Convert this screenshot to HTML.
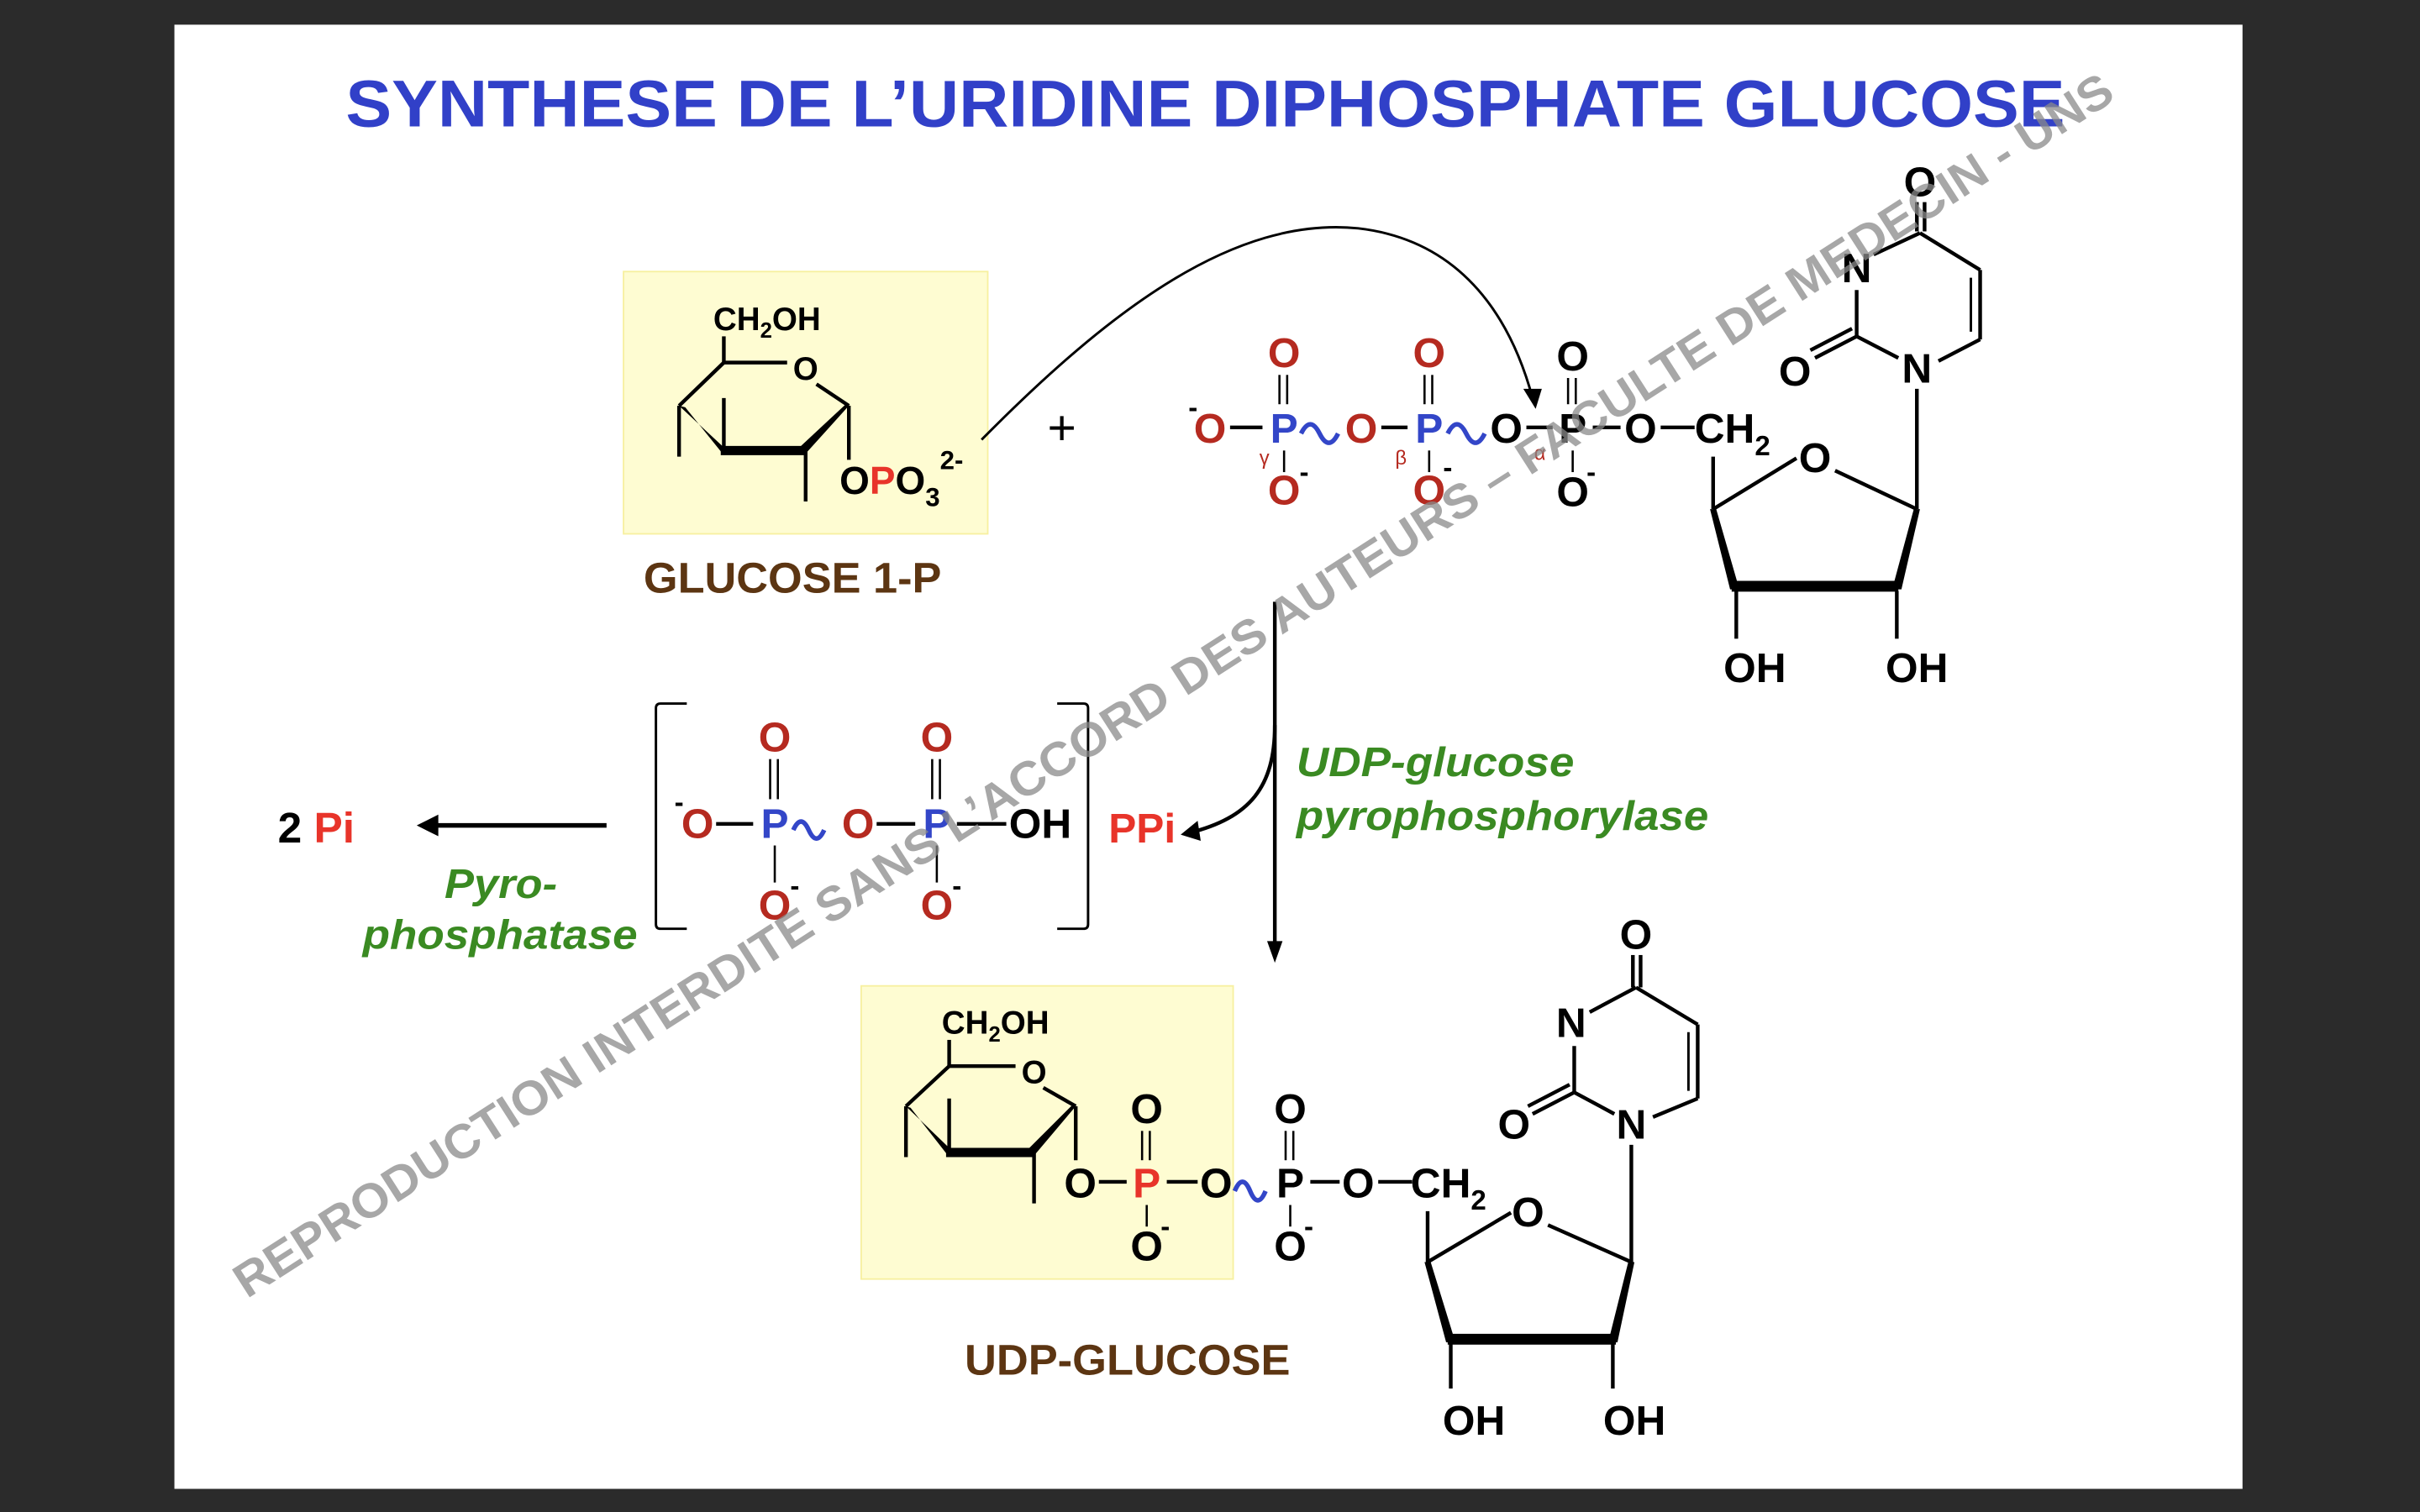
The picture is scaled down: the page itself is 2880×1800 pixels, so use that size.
<!DOCTYPE html>
<html><head><meta charset="utf-8"><style>
html,body{margin:0;padding:0;background:#2b2b2b;}
svg{display:block;}
text{font-family:"Liberation Sans",Arial,sans-serif;font-weight:bold;}
.a{font-size:27px;text-anchor:middle;}
.r{fill:#b52a20}.b{fill:#3346c8}.rp{fill:#e8342a}
.g{fill:#3a8a22;font-style:italic;font-size:27px;}
.br{fill:#5c3512;font-size:28px;}
line,path,polyline{stroke:#000;stroke-width:2.4;fill:none;}
</style></head><body>
<svg width="2880" height="1800" viewBox="0 0 1568 980" xmlns="http://www.w3.org/2000/svg">
<rect x="0" y="0" width="1568" height="980" fill="#2b2b2b"/>
<rect x="113" y="16" width="1340" height="949" fill="#fff"/>
<text x="224" y="82" textLength="1114" lengthAdjust="spacingAndGlyphs" style="font-size:43px;fill:#3140c8">SYNTHESE DE L’URIDINE DIPHOSPHATE GLUCOSE</text>

<!-- glucose 1-P box -->
<rect x="404" y="176" width="236" height="170" fill="#fefcd2" stroke="#f7f0a0" stroke-width="1"/>
<text x="497" y="214" style="font-size:21px;text-anchor:middle">CH<tspan font-size="14" dy="5">2</tspan><tspan dy="-5">OH</tspan></text>
<line x1="469" y1="218" x2="469" y2="235"/>
<line x1="469" y1="235" x2="510" y2="235"/>
<text x="522" y="246" class="a" style="font-size:21px">O</text>
<line x1="529" y1="249" x2="550" y2="263"/>
<line x1="469" y1="235" x2="440" y2="263"/>
<polygon points="440,263 469,290 469,295 444,264" fill="#000"/>
<line x1="467" y1="292" x2="522" y2="292" style="stroke-width:6"/>
<polygon points="522,294 550,263 548,262 519,289" fill="#000"/>
<line x1="440" y1="263" x2="440" y2="296"/>
<line x1="469" y1="258" x2="469" y2="292"/>
<line x1="522" y1="292" x2="522" y2="325"/>
<line x1="550" y1="263" x2="550" y2="298"/>
<text x="544" y="320" style="font-size:25px">O<tspan class="rp">P</tspan>O<tspan font-size="17" dy="8">3</tspan><tspan font-size="17" dy="-24">2-</tspan></text>
<text x="417" y="384" class="br" textLength="193" lengthAdjust="spacingAndGlyphs">GLUCOSE 1-P</text>
<text x="688" y="288" style="font-size:32px;font-weight:normal;text-anchor:middle">+</text>

<!-- curved arrow -->
<path d="M636,285 C720,200 800,140 880,148 C950,156 980,210 993,258" style="stroke-width:1.6"/>
<polygon points="987,252 999,252 995,265" fill="#000"/>

<!-- UTP phosphate chain -->
<text x="784" y="287" class="a r">O</text><text x="770" y="270" style="font-size:18px">-</text>
<line x1="797" y1="277" x2="818" y2="277"/>
<text x="832" y="287" class="a b">P</text>
<text x="832" y="238" class="a r">O</text>
<line x1="829" y1="243" x2="829" y2="262" style="stroke-width:1.4"/><line x1="834" y1="243" x2="834" y2="262" style="stroke-width:1.4"/>
<line x1="832" y1="292" x2="832" y2="306" style="stroke-width:1.4"/>
<text x="832" y="327" class="a r">O</text><text x="842" y="312" style="font-size:18px">-</text>
<text x="816" y="301" style="font-size:13px;font-weight:normal" class="r">γ</text>
<path d="M843,281 q6,-12 12,0 q6,12 12,0" style="stroke:#3346c8;stroke-width:3"/>
<text x="882" y="287" class="a r">O</text>
<line x1="895" y1="277" x2="912" y2="277"/>
<text x="926" y="287" class="a b">P</text>
<text x="926" y="238" class="a r">O</text>
<line x1="923" y1="243" x2="923" y2="262" style="stroke-width:1.4"/><line x1="928" y1="243" x2="928" y2="262" style="stroke-width:1.4"/>
<line x1="926" y1="292" x2="926" y2="306" style="stroke-width:1.4"/>
<text x="926" y="327" class="a r">O</text><text x="935" y="309" style="font-size:18px">-</text>
<text x="904" y="301" style="font-size:13px;font-weight:normal" class="r">β</text>
<path d="M938,281 q6,-12 12,0 q6,12 12,0" style="stroke:#3346c8;stroke-width:3"/>
<text x="976" y="287" class="a">O</text>
<line x1="989" y1="277" x2="1006" y2="277"/>
<text x="1019" y="287" class="a">P</text>
<text x="1019" y="240" class="a">O</text>
<line x1="1016" y1="245" x2="1016" y2="262" style="stroke-width:1.4"/><line x1="1021" y1="245" x2="1021" y2="262" style="stroke-width:1.4"/>
<line x1="1019" y1="292" x2="1019" y2="306" style="stroke-width:1.4"/>
<text x="1019" y="328" class="a">O</text><text x="1028" y="312" style="font-size:18px">-</text>
<text x="994" y="298" style="font-size:13px;font-weight:normal" class="r">α</text>
<line x1="1032" y1="277" x2="1050" y2="277"/>
<text x="1063" y="287" class="a">O</text>
<line x1="1076" y1="277" x2="1098" y2="277"/>
<text x="1098" y="287" style="font-size:27px">CH<tspan font-size="18" dy="8">2</tspan></text>
<!-- UTP ribose -->
<line x1="1110" y1="296" x2="1110" y2="330"/>
<text x="1176" y="306" class="a">O</text>
<line x1="1110" y1="330" x2="1164" y2="297"/>
<line x1="1189" y1="305" x2="1242" y2="330"/>
<polygon points="1108,330 1112,330 1127,382 1121,382" fill="#000"/>
<line x1="1122" y1="380" x2="1230" y2="380" style="stroke-width:7"/>
<polygon points="1240,330 1244,330 1232,382 1226,382" fill="#000"/>
<line x1="1125" y1="383" x2="1125" y2="414"/>
<line x1="1229" y1="383" x2="1229" y2="414"/>
<text x="1137" y="442" class="a">OH</text>
<text x="1242" y="442" class="a">OH</text>
<!-- UTP uracil -->
<line x1="1242" y1="330" x2="1242" y2="252"/>
<text x="1242" y="248" class="a">N</text>
<text x="1203" y="183" class="a">N</text>
<text x="1163" y="250" class="a">O</text>
<text x="1244" y="127" class="a">O</text>
<line x1="1242" y1="131" x2="1242" y2="150"/><line x1="1247" y1="131" x2="1247" y2="150"/>
<line x1="1244" y1="151" x2="1283" y2="175"/>
<line x1="1283" y1="175" x2="1283" y2="220"/><line x1="1277" y1="180" x2="1277" y2="215" style="stroke-width:1.6"/>
<line x1="1283" y1="220" x2="1256" y2="234"/>
<line x1="1244" y1="151" x2="1214" y2="165"/>
<line x1="1203" y1="188" x2="1203" y2="218"/>
<line x1="1203" y1="218" x2="1230" y2="232"/>
<line x1="1203" y1="218" x2="1176" y2="232"/><line x1="1200" y1="213" x2="1173" y2="227"/>

<!-- main vertical arrow -->
<line x1="826" y1="390" x2="826" y2="614"/>
<polygon points="821,610 831,610 826,624" fill="#000"/>
<path d="M826,470 C826,510 810,530 770,540"/>
<polygon points="765,541 776,532 778,545" fill="#000"/>
<text x="840" y="503" class="g" textLength="180" lengthAdjust="spacingAndGlyphs">UDP-glucose</text>
<text x="840" y="538" class="g" textLength="267" lengthAdjust="spacingAndGlyphs">pyrophosphorylase</text>
<text x="740" y="546" class="a rp">PPi</text>

<!-- PPi bracket -->
<path d="M445,456 L428,456 Q425,456 425,459 L425,599 Q425,602 428,602 L445,602" style="stroke-width:1.6"/>
<path d="M685,456 L702,456 Q705,456 705,459 L705,599 Q705,602 702,602 L685,602" style="stroke-width:1.6"/>
<text x="452" y="543" class="a r">O</text><text x="437" y="526" style="font-size:18px">-</text>
<line x1="464" y1="534" x2="488" y2="534"/>
<text x="502" y="543" class="a b">P</text>
<text x="502" y="487" class="a r">O</text>
<line x1="499" y1="492" x2="499" y2="518" style="stroke-width:1.4"/><line x1="504" y1="492" x2="504" y2="518" style="stroke-width:1.4"/>
<line x1="502" y1="548" x2="502" y2="572" style="stroke-width:1.4"/>
<text x="502" y="596" class="a r">O</text><text x="512" y="580" style="font-size:18px">-</text>
<path d="M514,538 q5,-11 10,0 q5,11 10,0" style="stroke:#3346c8;stroke-width:3"/>
<text x="556" y="543" class="a r">O</text>
<line x1="568" y1="534" x2="593" y2="534"/>
<text x="607" y="543" class="a b">P</text>
<text x="607" y="487" class="a r">O</text>
<line x1="604" y1="492" x2="604" y2="518" style="stroke-width:1.4"/><line x1="609" y1="492" x2="609" y2="518" style="stroke-width:1.4"/>
<line x1="607" y1="548" x2="607" y2="572" style="stroke-width:1.4"/>
<text x="607" y="596" class="a r">O</text><text x="617" y="580" style="font-size:18px">-</text>
<line x1="620" y1="534" x2="652" y2="534"/>
<text x="674" y="543" class="a">OH</text>

<text x="180" y="546" style="font-size:28px">2 <tspan class="rp">Pi</tspan></text>
<line x1="393" y1="535" x2="280" y2="535" style="stroke-width:3"/>
<polygon points="270,535 284,528 284,542" fill="#000"/>
<text x="288" y="582" class="g" textLength="73" lengthAdjust="spacingAndGlyphs">Pyro-</text>
<text x="235" y="615" class="g" textLength="178" lengthAdjust="spacingAndGlyphs">phosphatase</text>

<!-- UDP-glucose -->
<rect x="558" y="639" width="241" height="190" fill="#fefcd2" stroke="#f7f0a0" stroke-width="1"/>
<text x="645" y="670" style="font-size:21px;text-anchor:middle">CH<tspan font-size="14" dy="5">2</tspan><tspan dy="-5">OH</tspan></text>
<line x1="615" y1="674" x2="615" y2="691"/>
<line x1="615" y1="691" x2="658" y2="691"/>
<text x="670" y="702" class="a" style="font-size:21px">O</text>
<line x1="676" y1="705" x2="697" y2="717"/>
<line x1="615" y1="691" x2="587" y2="717"/>
<polygon points="587,717 615,744 615,750 590,718" fill="#000"/>
<line x1="613" y1="747" x2="670" y2="747" style="stroke-width:6"/>
<polygon points="670,749 697,717 695,716 667,744" fill="#000"/>
<line x1="587" y1="717" x2="587" y2="750"/>
<line x1="615" y1="712" x2="615" y2="747"/>
<line x1="670" y1="747" x2="670" y2="780"/>
<line x1="697" y1="717" x2="697" y2="752"/>
<text x="700" y="776" class="a">O</text>
<line x1="712" y1="766" x2="730" y2="766"/>
<text x="743" y="776" class="a rp">P</text>
<text x="743" y="728" class="a">O</text>
<line x1="740" y1="733" x2="740" y2="752" style="stroke-width:1.4"/><line x1="745" y1="733" x2="745" y2="752" style="stroke-width:1.4"/>
<line x1="743" y1="781" x2="743" y2="795" style="stroke-width:1.4"/>
<text x="743" y="817" class="a">O</text><text x="752" y="801" style="font-size:18px">-</text>
<line x1="756" y1="766" x2="776" y2="766"/>
<text x="788" y="776" class="a">O</text>
<path d="M800,772 q5,-12 10,0 q5,12 10,0" style="stroke:#3346c8;stroke-width:3"/>
<text x="836" y="776" class="a">P</text>
<text x="836" y="728" class="a">O</text>
<line x1="833" y1="733" x2="833" y2="752" style="stroke-width:1.4"/><line x1="838" y1="733" x2="838" y2="752" style="stroke-width:1.4"/>
<line x1="836" y1="781" x2="836" y2="795" style="stroke-width:1.4"/>
<text x="836" y="817" class="a">O</text><text x="845" y="801" style="font-size:18px">-</text>
<line x1="849" y1="766" x2="868" y2="766"/>
<text x="880" y="776" class="a">O</text>
<line x1="893" y1="766" x2="915" y2="766"/>
<text x="914" y="776" style="font-size:27px">CH<tspan font-size="18" dy="8">2</tspan></text>
<line x1="925" y1="785" x2="925" y2="818"/>
<text x="990" y="795" class="a">O</text>
<line x1="925" y1="818" x2="979" y2="786"/>
<line x1="1003" y1="794" x2="1057" y2="818"/>
<polygon points="923,818 927,818 943,870 937,870" fill="#000"/>
<line x1="938" y1="868" x2="1047" y2="868" style="stroke-width:7"/>
<polygon points="1055,818 1059,818 1048,870 1042,870" fill="#000"/>
<line x1="940" y1="871" x2="940" y2="900"/>
<line x1="1045" y1="871" x2="1045" y2="900"/>
<text x="955" y="930" class="a">OH</text>
<text x="1059" y="930" class="a">OH</text>
<line x1="1057" y1="818" x2="1057" y2="742"/>
<text x="1057" y="738" class="a">N</text>
<text x="1018" y="672" class="a">N</text>
<text x="981" y="738" class="a">O</text>
<text x="1060" y="615" class="a">O</text>
<line x1="1058" y1="619" x2="1058" y2="640"/><line x1="1063" y1="619" x2="1063" y2="640"/>
<line x1="1060" y1="640" x2="1100" y2="664"/>
<line x1="1100" y1="664" x2="1100" y2="712"/><line x1="1094" y1="669" x2="1094" y2="707" style="stroke-width:1.6"/>
<line x1="1100" y1="712" x2="1071" y2="724"/>
<line x1="1060" y1="640" x2="1030" y2="656"/>
<line x1="1020" y1="678" x2="1020" y2="708"/>
<line x1="1020" y1="708" x2="1046" y2="722"/>
<line x1="1020" y1="708" x2="993" y2="722"/><line x1="1017" y1="703" x2="990" y2="717"/>
<text x="625" y="891" class="br" textLength="211" lengthAdjust="spacingAndGlyphs">UDP-GLUCOSE</text>

<!-- watermark -->
<text x="0" y="0" transform="translate(160,842) rotate(-32.7)" textLength="1440" lengthAdjust="spacingAndGlyphs" style="font-size:31px;fill:#8a8a8a;opacity:0.75">REPRODUCTION INTERDITE SANS L’ACCORD DES AUTEURS – FACULTE DE MEDECIN - UNS</text>
</svg>
</body></html>
